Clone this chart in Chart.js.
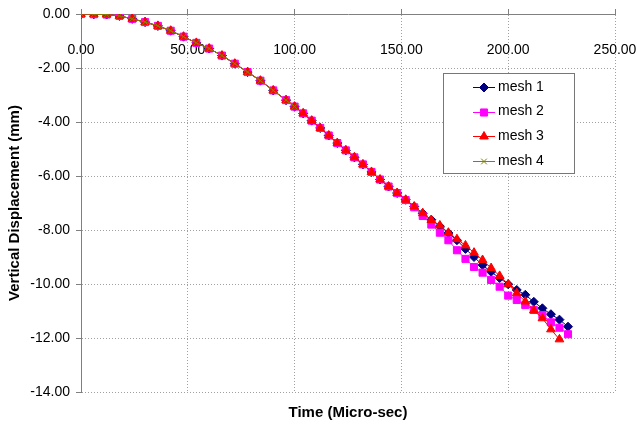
<!DOCTYPE html>
<html>
<head>
<meta charset="utf-8">
<script src="https://cdn.jsdelivr.net/npm/chart.js@4/dist/chart.umd.min.js"></script>
<style>
  html, body { margin: 0; padding: 0; background: #fff; }
  #wrap { width: 637px; height: 430px; }
</style>
</head>
<body>
<div id="wrap"><canvas id="chartDisp" width="637" height="430"></canvas></div>
<script>
  // tempo (µs): passo 6 até 96, depois passo 4
  const times = [0, 6, 12, 18, 24, 30, 36, 42, 48, 54, 60, 66, 72, 78, 84, 90, 96,
    100, 104, 108, 112, 116, 120, 124, 128, 132, 136, 140, 144, 148, 152, 156,
    160, 164, 168, 172, 176, 180, 184, 188, 192, 196, 200, 204, 208, 212, 216, 220, 224, 228];

  const mesh1 = [0, -0.01, -0.02, -0.07, -0.18, -0.30, -0.44, -0.62, -0.84, -1.07, -1.28, -1.54, -1.84, -2.15, -2.47, -2.83, -3.19,
    -3.43, -3.68, -3.95, -4.22, -4.50, -4.78, -5.05, -5.31, -5.57, -5.85, -6.13, -6.39, -6.63, -6.88, -7.13,
    -7.38, -7.62, -7.86, -8.11, -8.38, -8.70, -9.00, -9.30, -9.55, -9.78, -10.01, -10.22, -10.40, -10.66, -10.90, -11.12, -11.32, -11.58];

  const mesh2 = [0, -0.01, -0.02, -0.07, -0.18, -0.30, -0.44, -0.62, -0.84, -1.07, -1.28, -1.54, -1.84, -2.15, -2.47, -2.83, -3.19,
    -3.43, -3.68, -3.95, -4.22, -4.50, -4.78, -5.05, -5.31, -5.57, -5.85, -6.13, -6.39, -6.63, -6.89, -7.16,
    -7.48, -7.80, -8.10, -8.38, -8.75, -9.07, -9.37, -9.58, -9.85, -10.10, -10.43, -10.59, -10.78, -10.96, -11.15, -11.42, -11.62, -11.86];

  const mesh3 = [0, -0.01, -0.02, -0.07, -0.18, -0.30, -0.44, -0.62, -0.84, -1.07, -1.28, -1.54, -1.84, -2.15, -2.47, -2.83, -3.19,
    -3.43, -3.68, -3.95, -4.22, -4.50, -4.78, -5.05, -5.31, -5.57, -5.85, -6.13, -6.39, -6.63, -6.88, -7.13,
    -7.38, -7.63, -7.83, -8.10, -8.34, -8.57, -8.84, -9.11, -9.41, -9.70, -10.01, -10.34, -10.65, -10.98, -11.27, -11.68, -12.05];

  const mesh4 = [0, -0.01, -0.02, -0.07, -0.18, -0.30, -0.44, -0.62, -0.84, -1.07, -1.28, -1.54, -1.84, -2.15, -2.47, -2.83, -3.19,
    -3.43];

  const xTicks = [0, 50, 100, 150, 200, 250];
  const yTicks = [0, -2, -4, -6, -8, -10, -12, -14];

  const FONT = "'Liberation Sans', Arial, sans-serif";

  function toPoints(values) {
    return values.map((v, i) => ({ x: times[i], y: v }));
  }

  // legenda com moldura, igual ao Excel
  const boxLegend = {
    id: "boxLegend",
    afterDraw(chart) {
      const ctx = chart.ctx;
      const left = 443, top = 73, w = 131, h = 100;
      ctx.save();
      ctx.fillStyle = "#fff";
      ctx.fillRect(left, top, w, h);
      ctx.strokeStyle = "#777";
      ctx.lineWidth = 1;
      ctx.strokeRect(left + 0.5, top + 0.5, w, h);

      ctx.font = "14px " + FONT;
      ctx.textBaseline = "middle";
      ctx.fillStyle = "#000";
      chart.data.datasets.forEach((ds, i) => {
        const y = 87 + i * 24.6;
        ctx.strokeStyle = ds.borderColor;
        ctx.lineWidth = 1;
        ctx.beginPath();
        ctx.moveTo(473, Math.round(y) + 0.5);
        ctx.lineTo(495, Math.round(y) + 0.5);
        ctx.stroke();
        ctx.fillStyle = ds.pointBackgroundColor;
        ctx.strokeStyle = ds.pointBorderColor;
        Chart.helpers.drawPoint(ctx, {
          pointStyle: ds.pointStyle,
          radius: ds.pointRadius,
          rotation: 0,
          borderWidth: ds.pointBorderWidth
        }, 484, Math.round(y) + 0.5);
        ctx.fillStyle = "#000";
        ctx.fillText(ds.label, 498, y);
      });
      ctx.restore();
    }
  };

  document.addEventListener("DOMContentLoaded", () => {
    const ctx = document.getElementById("chartDisp").getContext("2d");

    const serie = (label, data, color, style, radius, order) => ({
      label: label,
      data: toPoints(data),
      borderColor: color,
      backgroundColor: color,
      pointBackgroundColor: color,
      pointBorderColor: color,
      pointStyle: style,
      pointRadius: radius,
      pointBorderWidth: 1,
      borderWidth: 1,
      order: order,
      xAxisID: "x",
      yAxisID: "y"
    });

    new Chart(ctx, {
      type: "line",
      data: {
        datasets: [
          serie("mesh 1", mesh1, "#000080", "rectRot", 4.5, 4),
          serie("mesh 2", mesh2, "#ff00ff", "rect", 5, 3),
          serie("mesh 3", mesh3, "#ff0000", "triangle", 5, 2),
          serie("mesh 4", mesh4, "#808000", "crossRot", 4, 1)
        ]
      },
      options: {
        responsive: false,
        devicePixelRatio: 1,
        animation: false,
        layout: { padding: { left: 0, right: 22, top: 0, bottom: 0 } },
        plugins: {
          legend: { display: false },
          tooltip: { enabled: false }
        },
        scales: {
          x: {
            type: "linear",
            position: "top",
            min: 0,
            max: 250,
            afterBuildTicks: (scale) => { scale.ticks = xTicks.map(v => ({ value: v })); },
            afterFit: (scale) => {
              scale.height = 14;
              scale.paddingLeft = 0; scale.paddingRight = 0;
            },
            ticks: {
              color: "#000",
              font: { family: FONT, size: 14 },
              mirror: true,   // rótulos abaixo do eixo, dentro da área
              padding: 28,
              maxRotation: 0,
              autoSkip: false,
              callback: (v) => Number(v).toFixed(2)
            },
            grid: { color: "#a0a0a0", tickColor: "#808080", tickLength: 5, lineWidth: 1 },
            border: { color: "#808080", width: 1, dash: [1, 2] }
          },
          x2: {
            type: "linear",
            position: "bottom",
            min: 0,
            max: 250,
            afterFit: (scale) => {
              scale.height = 38;
              scale.paddingLeft = 0; scale.paddingRight = 0;
            },
            ticks: { display: false },
            grid: { display: false, drawTicks: false },
            border: { display: false },
            title: {
              display: true,
              text: "Time (Micro-sec)",
              color: "#000",
              font: { family: FONT, size: 15, weight: "bold" },
              padding: { top: 0, bottom: 8 }
            }
          },
          y: {
            type: "linear",
            position: "left",
            min: -14,
            max: 0,
            afterBuildTicks: (scale) => { scale.ticks = yTicks.map(v => ({ value: v })); },
            afterFit: (scale) => {
              scale.width = 81;
              scale.paddingTop = 0; scale.paddingBottom = 0;
            },
            ticks: {
              color: "#000",
              font: { family: FONT, size: 14 },
              padding: 6,
              callback: (v) => Number(v).toFixed(2)
            },
            grid: { color: "#a0a0a0", tickColor: "#808080", tickLength: 5, lineWidth: 1 },
            border: { color: "#808080", width: 1, dash: [1, 2] },
            title: {
              display: true,
              text: "Vertical Displacement (mm)",
              color: "#000",
              font: { family: FONT, size: 15, weight: "bold" },
              padding: { top: 6, bottom: 0 }
            }
          }
        }
      },
      plugins: [boxLegend]
    });
  });
</script>
</body>
</html>
